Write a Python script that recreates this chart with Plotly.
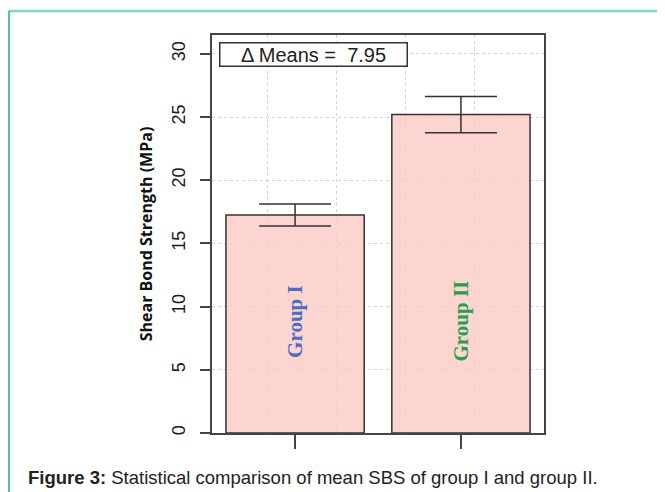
import plotly.graph_objects as go

# ---- data ----
groups = ["Group I", "Group II"]
bar_positions = [0.7, 1.9]
mean_sbs = [17.25, 25.20]
sd_sbs = [0.87, 1.43]
group_label_colors = ["#4a6cc2", "#27a04e"]
label_height = [8.8, 8.9]
y_ticks = [0, 5, 10, 15, 20, 25, 30]
x_grid = [0.5, 1.0, 1.5, 2.0]
delta_text = "\u0394 Means =\u00a0\u00a07.95"
caption = "<b>Figure 3:</b> Statistical comparison of mean SBS of group I and group II."
y_title = "Shear Bond Strength (MPa)"

# page body has an 8px default margin; compensate so the picture lines up
OFF = 8
W, H = 665 - OFF, 492 - OFF
ML, MR, MT, MB = 212 - OFF, 121, 35 - OFF, 59
PW, PH = W - ML - MR, H - MT - MB


def px_to_paper_x(px):
    return (px - OFF - ML) / PW


def px_to_paper_y(py):
    return (H - MB - (py - OFF)) / PH


fig = go.Figure()
fig.add_trace(go.Bar(
    x=bar_positions, y=mean_sbs, width=1.0,
    marker=dict(color="rgba(252,202,196,0.8)", line=dict(color="#333333", width=1.5)),
    error_y=dict(type="data", array=sd_sbs, visible=True, color="#333333",
                 thickness=1.5, width=36),
    hoverinfo="skip", showlegend=False,
))

for xp, g, c, yh in zip(bar_positions, groups, group_label_colors, label_height):
    fig.add_annotation(x=xp, y=yh, xref="x", yref="y", text=g, showarrow=False,
                       textangle=-90,
                       font=dict(family="Liberation Serif", size=21, color=c, weight="bold"))

fig.add_annotation(xref="paper", yref="paper", x=px_to_paper_x(219), y=px_to_paper_y(42),
                   xanchor="left", yanchor="top", text=delta_text, showarrow=False,
                   width=184, height=20, borderpad=1, bordercolor="#333333", borderwidth=1.5,
                   bgcolor="white",
                   font=dict(family="Liberation Sans, Arial", size=20, color="#222222"))

fig.add_annotation(xref="paper", yref="paper", x=px_to_paper_x(26), y=px_to_paper_y(477),
                   xanchor="left", yanchor="middle", text=caption, showarrow=False,
                   font=dict(family="Liberation Sans, Arial", size=18.5, color="#222222"))

# page frame lines (teal)
fig.add_shape(type="line", xref="paper", yref="paper",
              x0=px_to_paper_x(9), x1=px_to_paper_x(665),
              y0=px_to_paper_y(11), y1=px_to_paper_y(11),
              line=dict(color="#7fd6c6", width=2.5))
fig.add_shape(type="line", xref="paper", yref="paper",
              x0=px_to_paper_x(9), x1=px_to_paper_x(9),
              y0=px_to_paper_y(11), y1=px_to_paper_y(492),
              line=dict(color="#1fa68f", width=1.5))

fig.update_layout(
    width=W, height=H, autosize=False,
    margin=dict(l=ML, r=MR, t=MT, b=MB),
    paper_bgcolor="white", plot_bgcolor="white",
    font=dict(family="Liberation Sans, Arial", color="#222222"),
    xaxis=dict(range=[0.099, 2.501], tickvals=bar_positions, showticklabels=False,
               ticks="outside", ticklen=14, tickwidth=1.5, tickcolor="#444444",
               showgrid=False, zeroline=False,
               showline=True, mirror=True, linecolor="#444444", linewidth=1.5,
               minor=dict(tickvals=x_grid, showgrid=True, gridcolor="#d2d2d2",
                          griddash="dot", gridwidth=1, ticks="")),
    yaxis=dict(range=[0, 31.5], tickvals=y_ticks, tickangle=-90,
               ticks="outside", ticklen=10, tickwidth=1.5, tickcolor="#444444",
               tickfont=dict(size=18, color="#1a1a1a"), ticklabelstandoff=8,
               showgrid=True, gridcolor="#d2d2d2", griddash="dot", gridwidth=1,
               zeroline=False,
               showline=True, mirror=True, linecolor="#444444", linewidth=1.5,
               title=dict(text=y_title, standoff=12,
                          font=dict(family="Open Sans", size=16, color="#111111", weight="bold"))),
)

fig.write_html("out.html")
